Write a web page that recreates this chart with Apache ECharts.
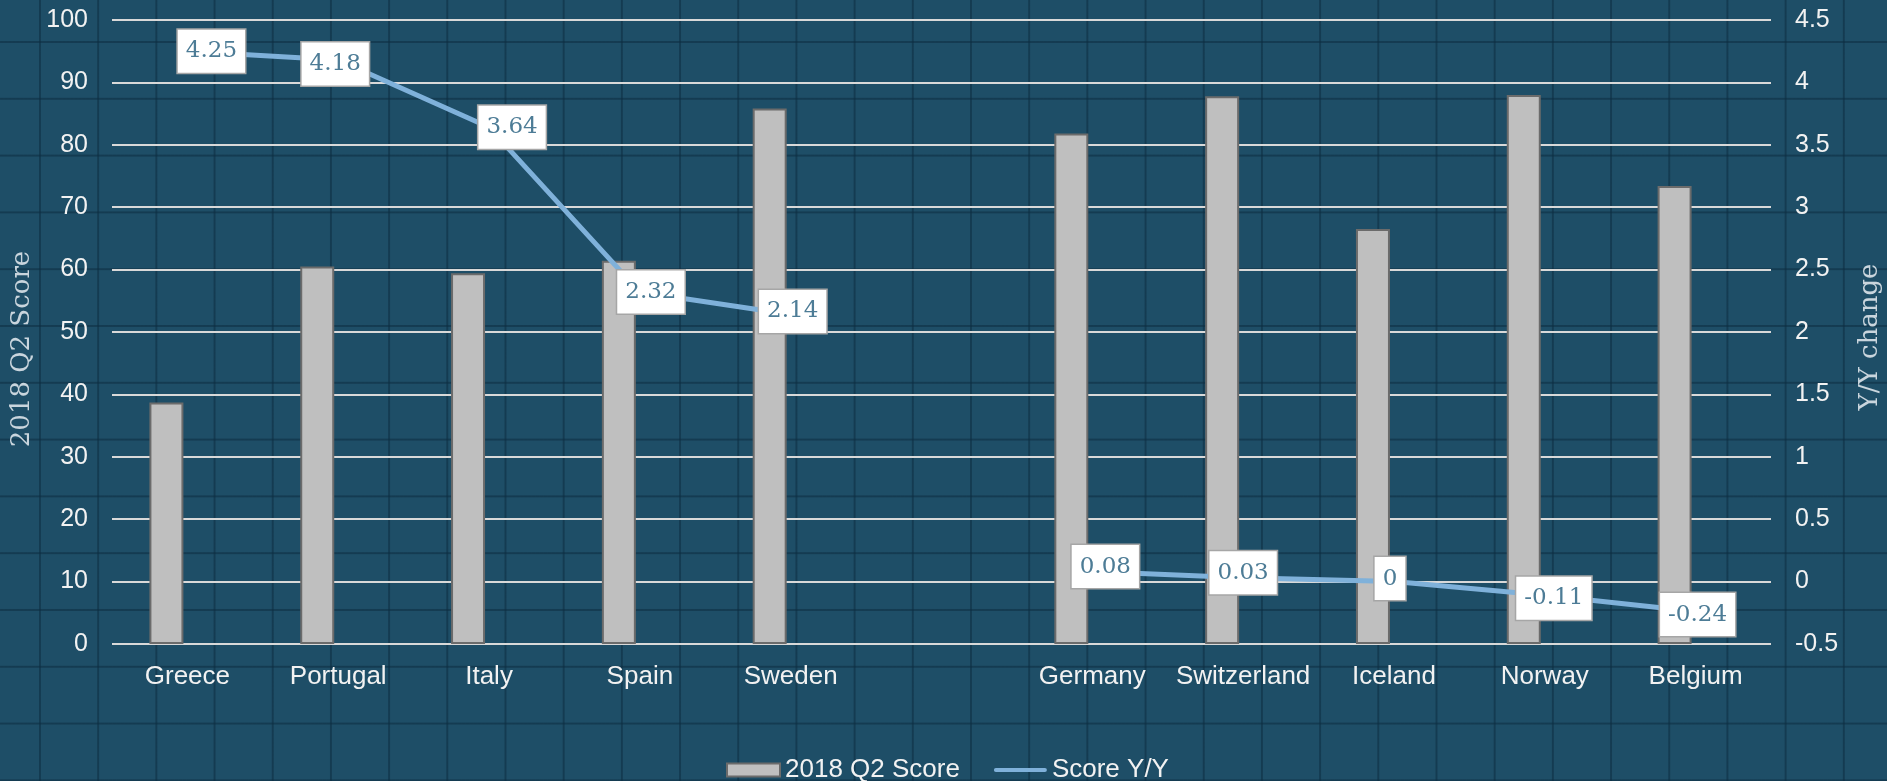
<!DOCTYPE html>
<html>
<head>
<meta charset="utf-8">
<script src="https://cdn.jsdelivr.net/npm/echarts@6/dist/echarts.min.js"></script>
<style>
  html, body { margin: 0; padding: 0; }
  #chart {
    width: 1887px; height: 781px;
    background-color: #1e4e67;
    background-image:
      linear-gradient(to right, rgba(12, 44, 64, 0.55) 2px, transparent 2px),
      linear-gradient(to bottom, rgba(12, 44, 64, 0.55) 2px, transparent 2px);
    background-size: 58.2px 56.8px;
    background-position: 39px 41px;
  }
</style>
</head>
<body>
<div id="chart"></div>
<script>
// ---- data ----
const categories = ['Greece', 'Portugal', 'Italy', 'Spain', 'Sweden', '', 'Germany', 'Switzerland', 'Iceland', 'Norway', 'Belgium'];
const scoreValues = [38.7, 60.5, 59.4, 61.4, 85.8, null, 81.8, 87.8, 66.5, 88.0, 73.4];
const yoyValues = [4.25, 4.18, 3.64, 2.32, 2.14, null, 0.08, 0.03, 0, -0.11, -0.24];
const barSeriesName = '2018 Q2 Score';
const lineSeriesName = 'Score Y/Y';
const leftAxisName = '2018 Q2 Score';
const rightAxisName = 'Y/Y change';

// label placement tweaks (style only)
const labelOffsets = [[24, 0], [-3, 4], [23, 0], [11, 0], [2, -3], [0, 0], [13, -5], [0, -5], [-4, -3], [9, 3], [2, 3]];

const chart = echarts.init(document.getElementById('chart'), null, { renderer: 'canvas' });

const tickStyle = { color: '#f2f2f2', fontSize: 25, fontFamily: 'Liberation Sans, Arial, sans-serif' };
const catStyle = { color: '#f2f2f2', fontSize: 26, fontFamily: 'Liberation Sans, Arial, sans-serif' };
const nameStyle = { color: '#c9d5dd', fontSize: 26, fontFamily: 'DejaVu Serif, serif' };

const option = {
  backgroundColor: 'transparent',
  animation: false,
  grid: { left: 112, right: 116, top: 20, bottom: 137, containLabel: false, outerBoundsMode: 'none' },
  legend: {
    left: 721, top: 752,
    itemWidth: 53, itemHeight: 13, itemGap: 34,
    textStyle: { color: '#f2f2f2', fontSize: 26, fontFamily: 'Liberation Sans, Arial, sans-serif' },
    data: [
      { name: barSeriesName, icon: 'rect' },
      { name: lineSeriesName, icon: 'path://M0,0H53V0.01H0Z M2,4.5H51A2,2 0 0 1 51,8.5H2A2,2 0 0 1 2,4.5Z M0,12.99H53V13H0Z' }
    ]
  },
  xAxis: {
    type: 'category',
    data: categories,
    axisLine: { show: false },
    axisTick: { show: false },
    axisLabel: Object.assign({ margin: 20, interval: 0 }, catStyle),
    splitLine: { show: false }
  },
  yAxis: [
    {
      type: 'value', min: 0, max: 100, interval: 10, position: 'left',
      name: leftAxisName, nameLocation: 'middle', nameRotate: 90, nameGap: 76,
      nameTextStyle: Object.assign({ padding: [0, 34, 0, 0] }, nameStyle),
      axisLine: { show: false }, axisTick: { show: false },
      axisLabel: Object.assign({ margin: 24 }, tickStyle),
      splitLine: { show: true, lineStyle: { color: '#d9d9d9', width: 2 } }
    },
    {
      type: 'value', min: -0.5, max: 4.5, interval: 0.5, position: 'right',
      name: rightAxisName, nameLocation: 'middle', nameRotate: 90, nameGap: 86,
      nameTextStyle: Object.assign({ padding: [0, 10, 0, 0] }, nameStyle),
      axisLine: { show: false }, axisTick: { show: false },
      axisLabel: Object.assign({ margin: 24 }, tickStyle),
      splitLine: { show: false }
    }
  ],
  series: [
    {
      name: barSeriesName,
      type: 'bar',
      yAxisIndex: 0,
      data: scoreValues,
      barWidth: 34,
      barGap: '23.5%',
      itemStyle: { color: '#bfbfbf', borderColor: '#6b6b6b', borderWidth: 2 },
      z: 3
    },
    {
      name: '_spacer',
      type: 'bar',
      yAxisIndex: 0,
      data: scoreValues.map(() => null),
      barWidth: 34,
      itemStyle: { color: 'transparent' },
      silent: true
    },
    {
      name: lineSeriesName,
      type: 'line',
      yAxisIndex: 1,
      data: yoyValues,
      connectNulls: false,
      symbol: 'circle',
      symbolSize: 1,
      showSymbol: true,
      color: '#7fb1da',
      itemStyle: { color: '#7fb1da' },
      lineStyle: { color: '#7fb1da', width: 5 },
      z: 5,
      label: {
        show: true,
        position: 'inside',
        color: '#4d7c96',
        fontSize: 23,
        fontFamily: 'DejaVu Serif, serif',
        lineHeight: 27,
        backgroundColor: '#ffffff',
        borderColor: '#a6a6a6',
        borderWidth: 1.5,
        padding: [8, 8, 8, 8],
        formatter: (p) => String(p.value)
      },
      labelLayout: (p) => ({
        dx: labelOffsets[p.dataIndex] ? labelOffsets[p.dataIndex][0] : 0,
        dy: labelOffsets[p.dataIndex] ? labelOffsets[p.dataIndex][1] : 0,
        hideOverlap: false
      })
    }
  ]
};

chart.setOption(option);
</script>
</body>
</html>
